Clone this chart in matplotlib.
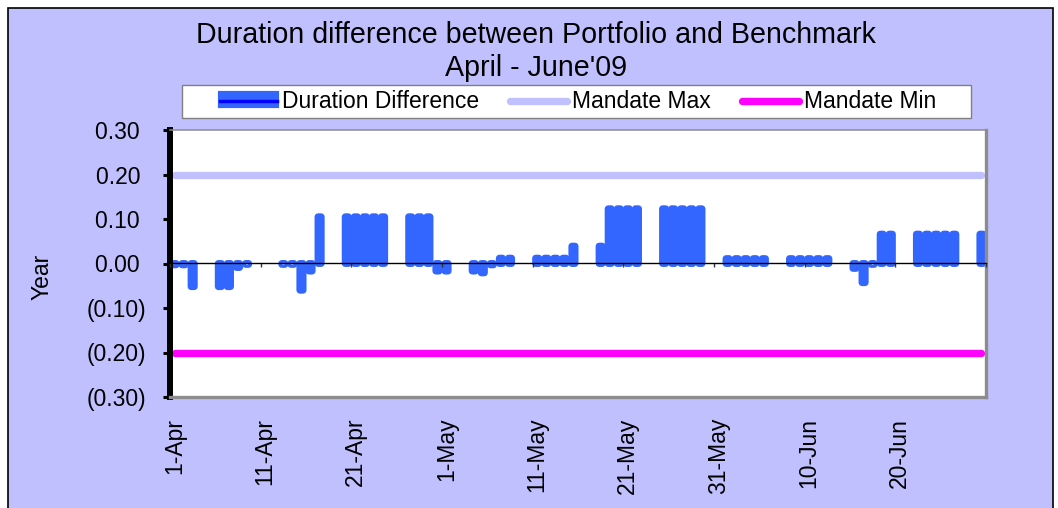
import numpy as np
import pandas as pd
import matplotlib
matplotlib.use("Agg")
import matplotlib.pyplot as plt
from matplotlib.patches import Rectangle, Patch
from matplotlib.lines import Line2D
from matplotlib.legend_handler import HandlerTuple

plt.rcParams['font.family'] = ['Liberation Sans', 'DejaVu Sans']

# ---------------- data ----------------
trade_dates = [
    '2009-04-01', '2009-04-02', '2009-04-03',
    '2009-04-06', '2009-04-07', '2009-04-08', '2009-04-09',
    '2009-04-13', '2009-04-14', '2009-04-15', '2009-04-16', '2009-04-17',
    '2009-04-20', '2009-04-21', '2009-04-22', '2009-04-23', '2009-04-24',
    '2009-04-27', '2009-04-28', '2009-04-29', '2009-04-30', '2009-05-01',
    '2009-05-04', '2009-05-05', '2009-05-06', '2009-05-07', '2009-05-08',
    '2009-05-11', '2009-05-12', '2009-05-13', '2009-05-14', '2009-05-15',
    '2009-05-18', '2009-05-19', '2009-05-20', '2009-05-21', '2009-05-22',
    '2009-05-25', '2009-05-26', '2009-05-27', '2009-05-28', '2009-05-29',
    '2009-06-01', '2009-06-02', '2009-06-03', '2009-06-04', '2009-06-05',
    '2009-06-08', '2009-06-09', '2009-06-10', '2009-06-11', '2009-06-12',
    '2009-06-15', '2009-06-16', '2009-06-17', '2009-06-18', '2009-06-19',
    '2009-06-22', '2009-06-23', '2009-06-24', '2009-06-25', '2009-06-26',
    '2009-06-29',
]
duration_diff = [
    -0.003, -0.003, -0.052,
    -0.052, -0.052, -0.009, -0.002,
    -0.002, -0.002, -0.060, -0.017, 0.105,
    0.105, 0.105, 0.105, 0.105, 0.105,
    0.105, 0.105, 0.105, -0.017, -0.017,
    -0.017, -0.021, -0.003, 0.012, 0.012,
    0.012, 0.012, 0.012, 0.012, 0.039,
    0.039, 0.123, 0.123, 0.123, 0.123,
    0.123, 0.123, 0.123, 0.123, 0.123,
    0.011, 0.011, 0.011, 0.011, 0.011,
    0.011, 0.011, 0.011, 0.011, 0.011,
    -0.011, -0.043, -0.002, 0.066, 0.066,
    0.066, 0.066, 0.066, 0.066, 0.066,
    0.066,
]
mandate_max = [0.20] * len(trade_dates)
mandate_min = [-0.20] * len(trade_dates)

axis_start = '2009-04-01'
axis_end = '2009-06-30'
tick_dates = ['2009-04-01', '2009-04-11', '2009-04-21', '2009-05-01', '2009-05-11',
              '2009-05-21', '2009-05-31', '2009-06-10', '2009-06-20']
tick_labels = ['1-Apr', '11-Apr', '21-Apr', '1-May', '11-May', '21-May', '31-May', '10-Jun', '20-Jun']
y_ticks = [-0.30, -0.20, -0.10, 0.00, 0.10, 0.20, 0.30]
y_tick_labels = ['(0.30)', '(0.20)', '(0.10)', '0.00 ', '0.10 ', '0.20 ', '0.30 ']

title_line1 = 'Duration difference between Portfolio and Benchmark'
title_line2 = "April - June'09"
y_label = 'Year'
series_names = ['Duration Difference', 'Mandate Max', 'Mandate Min']

# ---------------- positions ----------------
t0 = pd.Timestamp(axis_start)
x = np.array((pd.to_datetime(trade_dates) - t0).days, dtype=float)
xt = np.array((pd.to_datetime(tick_dates) - t0).days, dtype=float)
x_end = float((pd.Timestamp(axis_end) - t0).days)
boundaries = list(xt - 0.5) + [x_end - 0.5]

# ---------------- style ----------------
BG = '#C0C0FF'
BAR = '#3366FF'
MAXC = '#C0C0FF'
MINC = '#FF00FF'
SPINE_GREY = '#8C8C8C'
FS = 16.5

W, H = 1058, 508
fig = plt.figure(figsize=(W / 100, H / 100), dpi=100)
fig.patch.set_facecolor('white')
fig.patches.append(Rectangle((8 / W, -0.02), (1053 - 8) / W, 1.02 - 8 / H,
                             transform=fig.transFigure, facecolor=BG,
                             edgecolor='black', linewidth=1.2, zorder=-5))

ax = fig.add_axes([170 / W, 1 - 397 / H, 816 / W, 267 / H])
ax.set_facecolor('white')

ax.bar(x, duration_diff, width=0.35, color=BAR, edgecolor=BAR, linewidth=5.0,
       joinstyle='round', zorder=1, snap=False)
ax.plot(x, mandate_max, color=MAXC, linewidth=5.3, solid_capstyle='round', zorder=2)
ax.plot(x, mandate_min, color=MINC, linewidth=5.3, solid_capstyle='round', zorder=2)

ax.set_xlim(-0.5, x_end - 0.5)
ax.set_ylim(-0.30, 0.30)

ax.set_yticks(y_ticks)
ax.set_yticklabels(y_tick_labels, fontsize=FS)
ax.tick_params(axis='y', direction='out', length=5, width=2.2, color='black', pad=12)

ax.set_xticks(xt)
ax.set_xticklabels(tick_labels, rotation=90, fontsize=FS)
ax.tick_params(axis='x', length=0, pad=15)

ax.spines['left'].set_color('black')
ax.spines['left'].set_linewidth(4.3)
ax.spines['top'].set_color(SPINE_GREY)
ax.spines['top'].set_linewidth(1.1)
for s in ('right', 'bottom'):
    ax.spines[s].set_color(SPINE_GREY)
    ax.spines[s].set_linewidth(2.4)

# zero axis with small tick marks at period boundaries
sec = ax.secondary_xaxis(0.5)
sec.set_xticks(boundaries)
sec.tick_params(direction='in', length=3, width=1, color='#333333',
                labeltop=False, labelbottom=False)
for s in sec.spines.values():
    s.set_color('black')
    s.set_linewidth(1.0)
sec.set_zorder(3)

# titles and axis label
fig.text(536 / W, 1 - 35 / H, title_line1, ha='center', va='center', fontsize=20.6)
fig.text(536 / W, 1 - 68 / H, title_line2, ha='center', va='center', fontsize=20.6)
fig.text(42 / W, 1 - 277 / H, y_label, ha='center', va='center', rotation=90, fontsize=FS)

# legend frame
fig.patches.append(Rectangle((182 / W, 1 - 118 / H), (971 - 182) / W, 33 / H,
                             transform=fig.transFigure, facecolor='white',
                             edgecolor='#808080', linewidth=1.0, zorder=1))

h1 = (Patch(facecolor=BAR, edgecolor=BAR, linewidth=3.0, joinstyle='round'),
      Line2D([], [], color='#0000FF', linewidth=2.5))
h2 = Line2D([], [], color=MAXC, linewidth=5.3, solid_capstyle='round')
h3 = Line2D([], [], color=MINC, linewidth=5.3, solid_capstyle='round')
fig.legend([h1, h2, h3], series_names, loc='center',
           bbox_to_anchor=(578 / W, 1 - 101.5 / H), ncol=3, frameon=False,
           fontsize=FS, handlelength=2.5, handleheight=0.5, handletextpad=0.2,
           columnspacing=1.35, borderpad=0.2,
           handler_map={tuple: HandlerTuple(ndivide=1, pad=0)})

fig.savefig('out.png', dpi=100)
